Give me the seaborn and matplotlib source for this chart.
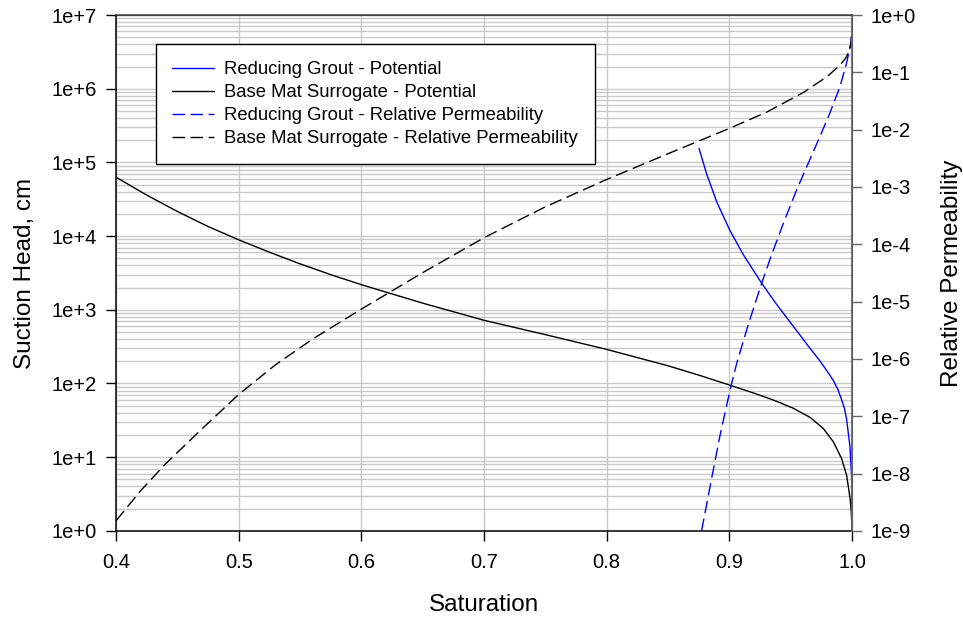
import numpy as np
import matplotlib
matplotlib.use("Agg")
import matplotlib.pyplot as plt
import seaborn as sns
from matplotlib.ticker import FixedLocator, LogLocator, FuncFormatter, NullFormatter

# Reducing Grout - Potential (suction head, cm)
rg_pot_sat = [0.8753, 0.8815, 0.8897, 0.9005, 0.9114, 0.9264, 0.9386, 0.9549,
              0.9645, 0.9739, 0.98, 0.9848, 0.9885, 0.9916, 0.994, 0.9957,
              0.9984, 0.9997, 1.0]
rg_pot = [1.55e5, 6.97e4, 2.92e4, 1.19e4, 5.6e3, 2.29e3, 1.18e3, 5.2e2,
          3.2e2, 2.02e2, 1.45e2, 1.1e2, 83, 60, 45, 32,
          13.8, 5.5, 1.0]

# Base Mat Surrogate - Potential (suction head, cm)
bm_pot_sat = [0.40, 0.425, 0.45, 0.475, 0.50, 0.525, 0.55, 0.575, 0.60, 0.65,
              0.70, 0.75, 0.80, 0.85, 0.875, 0.90, 0.92, 0.936, 0.9521, 0.9658,
              0.9766, 0.9848, 0.9916, 0.9957, 0.9984, 0.9995, 1.0]
bm_pot = [6.3e4, 3.6e4, 2.16e4, 1.35e4, 8.9e3, 6.05e3, 4.2e3, 3.0e3, 2.19e3, 1.23e3,
          7.2e2, 4.6e2, 2.9e2, 1.74e2, 1.3e2, 95.5, 74, 59.6, 46.2, 34.7,
          24.5, 16.2, 9.55, 5.6, 2.8, 1.74, 1.0]

# Reducing Grout - Relative Permeability
rg_kr_sat = [0.8774, 0.885, 0.8923, 0.9011, 0.906, 0.9155, 0.9264, 0.9345,
             0.944, 0.9549, 0.9644, 0.9739, 0.982, 0.9902, 0.9956, 0.9991, 1.0]
rg_kr = [1e-9, 7.1e-9, 4.5e-8, 3.2e-7, 8.3e-7, 4.0e-6, 2.1e-5, 6.6e-5,
         2.3e-4, 8.9e-4, 2.6e-3, 7.6e-3, 1.95e-2, 5.6e-2, 0.145, 0.32, 0.60]

# Base Mat Surrogate - Relative Permeability
bm_kr_sat = [0.40, 0.42, 0.44, 0.47, 0.50, 0.53, 0.56, 0.60, 0.65, 0.70, 0.75,
             0.80, 0.85, 0.90, 0.93, 0.96, 0.98, 0.99, 0.995, 0.998, 0.9995, 1.0]
bm_kr = [1.5e-9, 5.0e-9, 1.45e-8, 6.0e-8, 2.4e-7, 7.9e-7, 2.2e-6, 7.4e-6, 3.2e-5,
         1.3e-4, 4.5e-4, 1.35e-3, 3.8e-3, 1.05e-2, 2.0e-2, 4.4e-2, 8.5e-2, 0.132,
         0.178, 0.24, 0.35, 0.55]

x_ticks = [0.4, 0.5, 0.6, 0.7, 0.8, 0.9, 1.0]
left_exp = list(range(0, 8))
right_exp = list(range(-9, 1))

sns.set_style("white")
plt.rcParams['font.family'] = ['Liberation Sans', 'DejaVu Sans']
plt.rcParams.update({'text.color': 'black', 'axes.labelcolor': 'black',
                     'xtick.color': 'black', 'ytick.color': 'black'})

fig, ax = plt.subplots(figsize=(9.63, 6.18), dpi=100)
fig.subplots_adjust(left=0.1205, right=0.8847, top=0.9757, bottom=0.141)
ax2 = ax.twinx()

sns.lineplot(x=rg_pot_sat, y=rg_pot, ax=ax, color='#0000ff', lw=1.0,
             sort=False, estimator=None, label='Reducing Grout - Potential')
sns.lineplot(x=bm_pot_sat, y=bm_pot, ax=ax, color='black', lw=1.0,
             sort=False, estimator=None, label='Base Mat Surrogate - Potential')
sns.lineplot(x=rg_kr_sat, y=rg_kr, ax=ax2, color='#0000ff', lw=1.0,
             sort=False, estimator=None, dashes=False, linestyle=(0, (9, 4)),
             label='Reducing Grout - Relative Permeability')
sns.lineplot(x=bm_kr_sat, y=bm_kr, ax=ax2, color='black', lw=1.0,
             sort=False, estimator=None, dashes=False, linestyle=(0, (9, 4)),
             label='Base Mat Surrogate - Relative Permeability')

for a in (ax, ax2):
    if a.get_legend() is not None:
        a.get_legend().remove()

ax.set_yscale('log')
ax2.set_yscale('log')
ax.set_xlim(0.4, 1.0)
ax.set_ylim(1, 1e7)
ax2.set_ylim(1e-9, 1)

ax.xaxis.set_major_locator(FixedLocator(x_ticks))
ax.xaxis.set_major_formatter(FuncFormatter(lambda v, p: f"{v:.1f}"))
ax.yaxis.set_major_locator(FixedLocator([10.0 ** k for k in left_exp]))
ax.yaxis.set_major_formatter(FuncFormatter(lambda v, p: f"1e{int(round(np.log10(v))):+d}"))
ax.yaxis.set_minor_locator(LogLocator(base=10, subs=np.arange(2, 10)))
ax.yaxis.set_minor_formatter(NullFormatter())
ax2.yaxis.set_major_locator(FixedLocator([10.0 ** k for k in right_exp]))
ax2.yaxis.set_major_formatter(FuncFormatter(lambda v, p: f"1e{int(round(np.log10(v))):+d}"))
ax2.yaxis.set_minor_locator(FixedLocator([]))

ax.grid(True, which='major', axis='x', color='#c9c9c9', lw=1.0)
ax.grid(True, which='both', axis='y', color='#c9c9c9', lw=1.0)
ax.set_axisbelow(True)
ax2.grid(False)

ax.tick_params(axis='both', which='major', direction='out', length=7, width=1,
               labelsize=14.5, pad=7, bottom=True, left=True, colors='black')
ax.tick_params(axis='x', which='major', pad=9)
ax.tick_params(axis='y', which='minor', length=0)
ax2.tick_params(axis='y', which='major', direction='out', length=7, width=1,
                labelsize=14.5, pad=6, right=True, color='#666666', labelcolor='black')

for s in ['left', 'bottom']:
    ax.spines[s].set_color('black')
    ax.spines[s].set_linewidth(1.1)
ax2.spines['right'].set_color('#666666')
ax2.spines['right'].set_linewidth(1.3)
ax2.spines['top'].set_color('#444444')
ax2.spines['top'].set_linewidth(1.1)
ax2.spines['left'].set_visible(False)
ax2.spines['bottom'].set_visible(False)

ax.set_xlabel('Saturation', fontsize=17.5)
ax.set_ylabel('Suction Head, cm', fontsize=17.5)
ax2.set_ylabel('Relative Permeability', fontsize=17.5)
ax.xaxis.set_label_coords(0.5, -0.122)
ax.yaxis.set_label_coords(-0.1087, 0.5)
ax2.yaxis.set_label_coords(1.121, 0.5)

h1, l1 = ax.get_legend_handles_labels()
h2, l2 = ax2.get_legend_handles_labels()
leg = ax2.legend(h1 + h2, l1 + l2, loc='upper left', bbox_to_anchor=(0.054, 0.943),
                 borderaxespad=0, fontsize=13.3, frameon=True, fancybox=False,
                 edgecolor='black', framealpha=1, borderpad=0.9, handlelength=2.25,
                 handletextpad=0.57, labelspacing=0.33)
leg.get_frame().set_linewidth(1.0)

fig.savefig('out.png', dpi=100)
